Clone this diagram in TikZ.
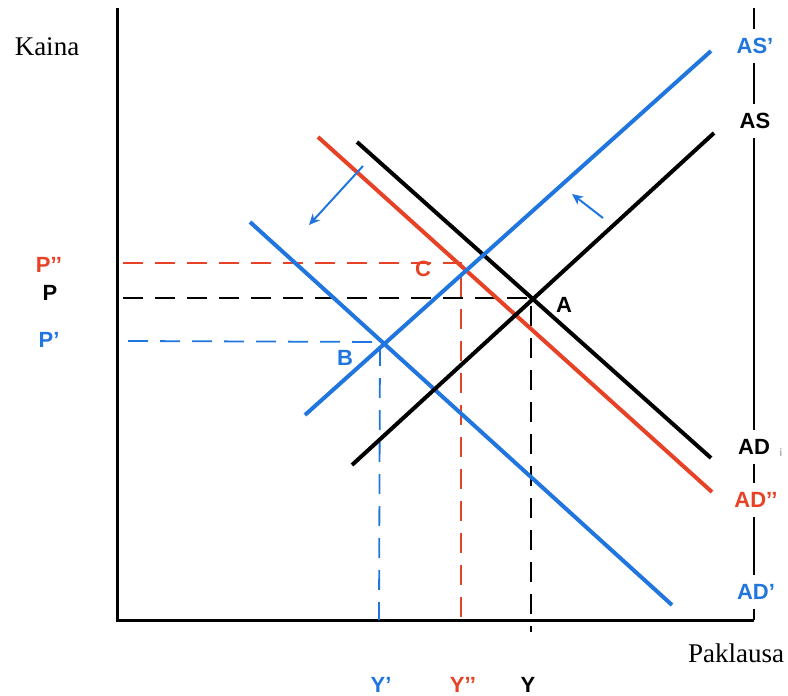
\documentclass[tikz,border=0pt]{standalone}
\usepackage{fontspec}
\setmainfont{Liberation Serif}
\newfontfamily\lab{Liberation Sans}
\usetikzlibrary{arrows.meta}
\definecolor{cblue}{RGB}{32,118,222}
\definecolor{cred}{RGB}{232,66,38}
\tikzset{
  curve/.style={line width=4pt},
  axisline/.style={line width=3pt},
  guide/.style={line width=1.8pt, dash pattern=on 20pt off 12pt},
  movearrow/.style={cblue, line width=2pt, -{Stealth[length=11pt,width=10pt]}},
  lbl/.style={font=\lab\bfseries\fontsize{22}{24}\selectfont, inner sep=1pt},
  rlbl/.style={lbl, fill=white, inner ysep=9pt},
  ttl/.style={font=\fontsize{27}{30}\selectfont, inner sep=0pt}
}
\begin{document}
\begin{tikzpicture}[x=1pt,y=-1pt]
\useasboundingbox (0,0) rectangle (788,696);
% axes
\coordinate (O) at (117,620);
\coordinate (Ytop) at (117,8);
\coordinate (Xend) at (754,620);
\coordinate (Rtop) at (754,8);
\draw[axisline] (Ytop) -- (O) -- (Xend);
\draw[line width=2.2pt] (Xend) -- (Rtop);
% intersection points
\coordinate (A) at (531,298);
\coordinate (C) at (461,263);
\coordinate (B) at (380,342);
% guides
\draw[guide, cred] (123,263) -- (C) -- (461,626);
\draw[guide, black] (123,298) -- (A) -- (531,632);
\draw[guide, cblue] (128,341) -- (B) -- (379,620);
% curves
\coordinate (ASa) at (352,465); \coordinate (ASb) at (714,133);
\coordinate (AS2a) at (305,415); \coordinate (AS2b) at (711,51);
\coordinate (ADa) at (357,142); \coordinate (ADb) at (711,458);
\coordinate (AD2a) at (318,137); \coordinate (AD2b) at (712,492);
\coordinate (AD1a) at (250,222); \coordinate (AD1b) at (672,605);
\draw[curve, black] (ADa) -- (ADb);
\draw[curve, cred] (AD2a) -- (AD2b);
\draw[curve, cblue] (AD1a) -- (AD1b);
\draw[curve, black] (ASa) -- (ASb);
\draw[curve, cblue] (AS2a) -- (AS2b);
% shift arrows
\coordinate (s1a) at (363,166); \coordinate (s1b) at (309,225);
\coordinate (s2a) at (603,218); \coordinate (s2b) at (572,194);
\draw[movearrow] (s1a) -- (s1b);
\draw[movearrow] (s2a) -- (s2b);
% right labels
\node[rlbl, text=cblue] (lAS2) at (755,46) {AS’};
\node[rlbl, text=black] (lAS) at (755,121) {AS};
\node[rlbl, text=black] (lAD) at (754,447) {AD};
\node[inner sep=0pt, text=gray, font=\lab\fontsize{11}{11}\selectfont] (lADi) at (781,452) {¡};
\node[rlbl, text=cred] (lAD2) at (756,500) {AD’’};
\node[rlbl, text=cblue] (lAD1) at (756,592) {AD’};
% point labels
\node[lbl, text=black] (lA) at (564,305) {A};
\node[lbl, text=cred] (lC) at (423,269) {C};
\node[lbl, text=cblue] (lB) at (345,358) {B};
% price labels
\node[lbl, text=cred] (lP2) at (49,265) {P’’};
\node[lbl, text=black] (lP) at (50,293) {P};
\node[lbl, text=cblue] (lP1) at (49,340) {P’};
% quantity labels
\node[lbl, text=cblue] (lY1) at (381,685) {Y’};
\node[lbl, text=cred] (lY2) at (463,685) {Y’’};
\node[lbl, text=black] (lY) at (528,685) {Y};
% axis titles
\node[ttl] (kaina) at (47,47) {Kaina};
\node[ttl] (pak) at (736,653) {Paklausa};
\end{tikzpicture}
\end{document}
